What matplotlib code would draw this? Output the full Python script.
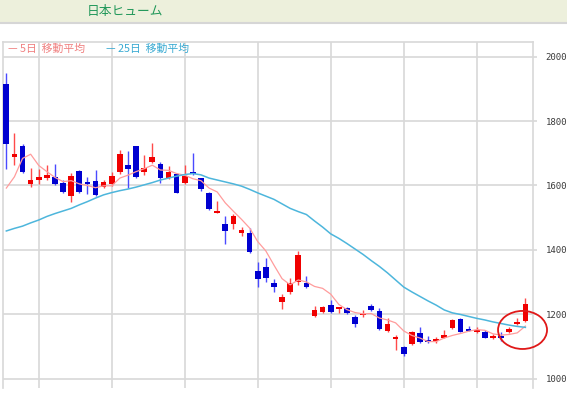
import matplotlib
matplotlib.use("Agg")
import matplotlib.pyplot as plt
from matplotlib.patches import Ellipse, Rectangle
from matplotlib.lines import Line2D

plt.rcParams['font.family'] = ['Noto Sans CJK JP', 'DejaVu Sans']

title = "日本ヒューム"
legend_labels = ["— 5日  移動平均", "— 25日  移動平均"]

opens = [1914, 1687, 1722, 1605, 1617, 1623, 1626, 1608, 1567, 1645,
         1611, 1614, 1595, 1605, 1642, 1664, 1722, 1642, 1673, 1667,
         1623, 1636, 1608, 1642, 1623, 1577, 1515, 1481, 1481, 1453,
         1453, 1335, 1347, 1298, 1239, 1270, 1301, 1298, 1195, 1208,
         1229, 1217, 1220, 1192, 1198, 1226, 1211, 1149, 1124, 1099,
         1109, 1143, 1121, 1118, 1127, 1158, 1186, 1155, 1146, 1146,
         1127, 1133, 1146, 1171, 1180]
highs = [1949, 1763, 1729, 1654, 1651, 1664, 1667, 1617, 1639, 1648,
         1626, 1648, 1617, 1642, 1710, 1707, 1722, 1695, 1732, 1673,
         1660, 1639, 1664, 1701, 1623, 1580, 1552, 1505, 1512, 1471,
         1468, 1363, 1375, 1310, 1264, 1313, 1397, 1319, 1226, 1226,
         1245, 1224, 1223, 1198, 1214, 1233, 1220, 1189, 1136, 1102,
         1149, 1161, 1133, 1130, 1152, 1186, 1188, 1164, 1161, 1152,
         1140, 1146, 1161, 1189, 1251]
lows = [1651, 1664, 1640, 1595, 1605, 1617, 1602, 1578, 1549, 1577,
        1574, 1567, 1592, 1598, 1636, 1592, 1623, 1633, 1670, 1608,
        1620, 1577, 1605, 1633, 1583, 1524, 1514, 1419, 1465, 1443,
        1392, 1285, 1301, 1270, 1217, 1264, 1291, 1283, 1192, 1205,
        1205, 1205, 1202, 1161, 1192, 1211, 1153, 1146, 1090, 1071,
        1105, 1112, 1112, 1112, 1126, 1155, 1145, 1148, 1143, 1126,
        1124, 1118, 1143, 1167, 1177]
closes = [1729, 1698, 1642, 1617, 1626, 1633, 1605, 1580, 1629, 1580,
          1605, 1571, 1611, 1629, 1698, 1651, 1626, 1654, 1688, 1623,
          1642, 1577, 1629, 1636, 1589, 1527, 1521, 1459, 1505, 1462,
          1394, 1310, 1313, 1285, 1254, 1298, 1385, 1285, 1214, 1223,
          1208, 1223, 1205, 1171, 1202, 1214, 1155, 1171, 1127, 1078,
          1146, 1115, 1115, 1124, 1136, 1183, 1146, 1149, 1149, 1127,
          1130, 1127, 1155, 1177, 1233]
ma5 = [1592, 1627, 1684, 1697, 1662, 1643, 1625, 1612, 1615, 1605,
       1600, 1593, 1599, 1599, 1623, 1632, 1643, 1652, 1663, 1648,
       1647, 1637, 1632, 1621, 1615, 1592, 1580, 1546, 1520, 1495,
       1468, 1426, 1397, 1353, 1311, 1292, 1307, 1301, 1287, 1281,
       1263, 1231, 1215, 1206, 1202, 1203, 1189, 1183, 1174, 1149,
       1135, 1127, 1116, 1116, 1127, 1135, 1141, 1148, 1153, 1151,
       1140, 1136, 1138, 1143, 1164]
ma25 = [1459, 1467, 1474, 1484, 1493, 1504, 1513, 1521, 1529, 1540,
        1550, 1561, 1571, 1578, 1584, 1589, 1595, 1602, 1609, 1617,
        1623, 1629, 1634, 1637, 1633, 1623, 1617, 1611, 1605, 1598,
        1588, 1577, 1567, 1557, 1543, 1529, 1519, 1510, 1490, 1471,
        1450, 1436, 1420, 1403, 1386, 1367, 1349, 1329, 1307, 1285,
        1270, 1256, 1242, 1229, 1214, 1205, 1200, 1194, 1188, 1183,
        1177, 1172, 1167, 1163, 1160]
yticks = [1000, 1200, 1400, 1600, 1800, 2000]
xgrid = [4, 13, 22, 31, 40, 49, 58]

W, H = 567, 395
fig = plt.figure(figsize=(W / 100, H / 100), dpi=100)

# title bar
fig.patches.append(Rectangle((0, 1 - 22.5 / H), 1, 22.5 / H, transform=fig.transFigure,
                             facecolor='#edf0dc', edgecolor='none', zorder=0))
fig.lines.append(Line2D([0, 1], [1 - 23 / H, 1 - 23 / H], transform=fig.transFigure,
                        color='#d6d6d6', lw=1.5))
fig.text(87 / W, 1 - 11 / H, title, color='#22985a', fontsize=9.2,
         ha='left', va='center')

ax = fig.add_axes([3 / W, 1 - 388 / H, 530 / W, 346 / H])
n = len(closes)
xs = list(range(n))
ax.set_xlim(-0.41, 64.94)
ax.set_ylim(972, 2045)

gc = '#d8d8d8'
for yv in yticks:
    ax.axhline(yv, color=gc, lw=1.2, zorder=0)
for xv in xgrid:
    ax.axvline(xv, color=gc, lw=1.2, zorder=0)

for s in ['top', 'left', 'right']:
    ax.spines[s].set_color(gc)
    ax.spines[s].set_linewidth(1.2)
ax.spines['bottom'].set_visible(False)

ax.yaxis.tick_right()
ax.set_yticks(yticks)
ax.set_yticklabels([str(v) for v in yticks], family='DejaVu Sans Mono',
                   fontsize=6.5, color='#3a3a3a')
ax.tick_params(axis='y', length=3, width=1.2, color=gc, pad=6)
ax.set_xticks([])

up_body, up_wick = '#f00000', '#ff4a4a'
dn_body, dn_wick = '#0000d0', '#4a4aff'
for i in xs:
    o, h, l, c = opens[i], highs[i], lows[i], closes[i]
    up = c >= o
    ax.vlines(i, l, h, colors=up_wick if up else dn_wick, lw=1.0, zorder=2)
    bottom = min(o, c)
    height = max(abs(c - o), 5)
    ax.bar(i, height, bottom=bottom, width=0.7, color=up_body if up else dn_body,
           edgecolor='none', zorder=3)

ax.plot(xs, ma5, color='#ff9c9c', lw=0.9, zorder=4)
ax.plot(xs, ma25, color='#4db6dc', lw=1.1, zorder=4)

ax.add_patch(Ellipse((63.65, 1152), width=6.04, height=118, fill=False,
                     edgecolor='#e01818', lw=1.3, clip_on=False, zorder=5))

fig.text(8 / W, 1 - 49 / H, legend_labels[0], color='#f08080', fontsize=7.8,
         ha='left', va='center')
fig.text(106 / W, 1 - 49 / H, legend_labels[1], color='#3aaad2', fontsize=7.8,
         ha='left', va='center')

fig.savefig('out.png', dpi=100)
